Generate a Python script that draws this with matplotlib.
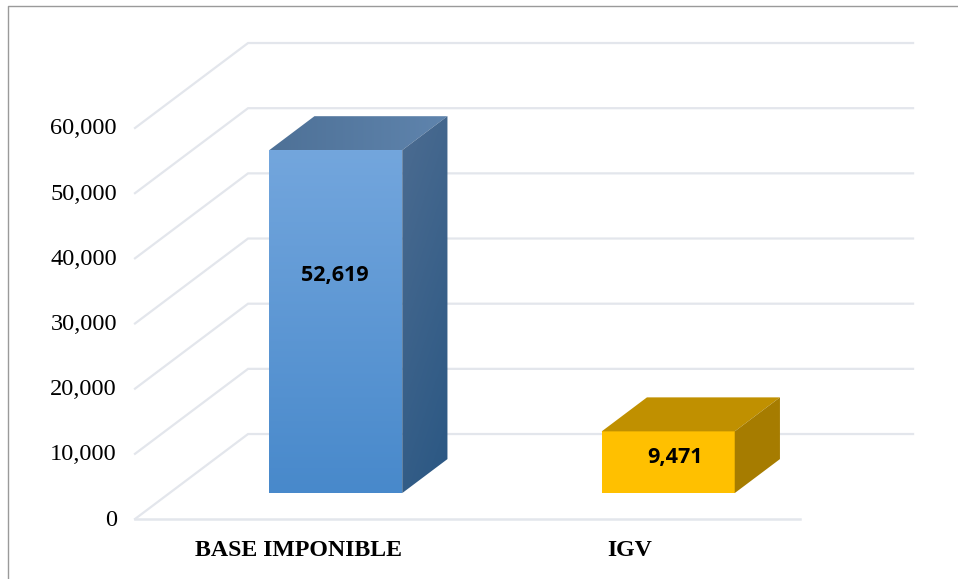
import matplotlib
matplotlib.use("Agg")
import numpy as np
from matplotlib import pyplot as plt
from matplotlib.colors import LinearSegmentedColormap
from matplotlib.patches import Polygon
from matplotlib.lines import Line2D
from matplotlib.transforms import ScaledTranslation

categories = ["BASE IMPONIBLE", "IGV"]
values = [52619, 9471]
value_labels = ["52,619", "9,471"]
yticks = [0, 10000, 20000, 30000, 40000, 50000, 60000]
ytick_labels = ["0", "10,000", "20,000", "30,000", "40,000", "50,000", "60,000"]

# oblique depth of the chart box, in data units
DX = 0.34
DY = 13040
BAR_W = 0.4
D_FRONT = 0.305
D_BACK = 0.705
GRID = "#e3e6ec"

W, H = 958, 579
fig = plt.figure(figsize=(W / 100, H / 100), dpi=100, facecolor="white")
ax = fig.add_axes([135 / W, 1 - 519 / H, 665 / W, 391 / H])
ax.patch.set_alpha(0)


def pt(x, y, d=0.0):
    return (x + d * DX, y + d * DY)


def face(corners, colors, angle=90):
    # gradient filled polygon, angle 90 runs top to bottom
    poly = Polygon(corners, closed=True, transform=ax.transData, fc="none", ec="none",
                   clip_on=False)
    ax.add_patch(poly)
    if colors[0] == colors[1]:
        poly.set_facecolor(colors[0])
        poly.set_zorder(3)
        return
    xs = [c[0] for c in corners]
    ys = [c[1] for c in corners]
    u, v = np.meshgrid(np.linspace(0, 1, 80), np.linspace(0, 1, 200))
    a = np.deg2rad(angle)
    t = u * np.cos(a) + v * np.sin(a)
    t = (t - t.min()) / (t.max() - t.min())
    cmap = LinearSegmentedColormap.from_list("f", colors)
    im = ax.imshow(t, cmap=cmap, extent=[min(xs), max(xs), min(ys), max(ys)],
                   aspect="auto", interpolation="bilinear", zorder=3)
    im.set_clip_box(fig.bbox)
    im.set_clip_path(poly)


# gridlines: side wall then back wall
for v in yticks:
    p0 = pt(0, v)
    p1 = pt(0, v, 1)
    p2 = pt(2, v, 1)
    ax.plot([p0[0], p1[0], p2[0]], [p0[1], p1[1], p2[1]], color=GRID, lw=1.6,
            solid_joinstyle="miter", clip_on=False, zorder=1)
ax.plot([0, 2], [0, 0], color=GRID, lw=1.8, clip_on=False, zorder=1)

front_colors = [("#73a6dd", "#4889cb"), ("#ffc000", "#ffc000")]
top_colors = [("#4e7197", "#5f84ad"), ("#c09000", "#c09000")]
side_colors = [("#4c6c91", "#2a5783"), ("#a67c00", "#a67c00")]

for i, val in enumerate(values):
    x0 = i + 0.5 - BAR_W / 2
    x1 = i + 0.5 + BAR_W / 2
    face([pt(x0, 0, D_FRONT), pt(x1, 0, D_FRONT), pt(x1, val, D_FRONT), pt(x0, val, D_FRONT)],
         front_colors[i])
    face([pt(x0, val, D_FRONT), pt(x1, val, D_FRONT), pt(x1, val, D_BACK), pt(x0, val, D_BACK)],
         top_colors[i], angle=0)
    face([pt(x1, 0, D_FRONT), pt(x1, 0, D_BACK), pt(x1, val, D_BACK), pt(x1, val, D_FRONT)],
         side_colors[i], angle=70)

label_x = [0.602, 1.625]
label_y = [37300, 9450]
for x, y, s in zip(label_x, label_y, value_labels):
    ax.text(x, y, s, ha="center", va="center", fontsize=15.5, fontweight="bold",
            family="Open Sans", color="black", zorder=5)

ax.set_xlim(0, 2)
ax.set_ylim(0, 60000)
ax.set_xticks([0.493, 1.488])
ax.set_xticklabels(categories, family="Liberation Serif", fontweight="bold", fontsize=17.2)
ax.set_yticks(yticks)
ax.set_yticklabels(ytick_labels, family="Liberation Serif", fontsize=17.6)
ax.tick_params(axis="both", length=0)
ax.tick_params(axis="x", pad=15)
ax.tick_params(axis="y", pad=13)
for s in ax.spines.values():
    s.set_visible(False)

# labels sit a touch above their gridline ends
nudge = ScaledTranslation(0, 1.5 / 100, fig.dpi_scale_trans)
for lab in ax.get_yticklabels():
    lab.set_transform(lab.get_transform() + nudge)

# outer frame, only top and left show in the crop
fig.add_artist(Line2D([8 / W, 8 / W, 1], [0, 1 - 6 / H, 1 - 6 / H], color="#9a9a9a", lw=1.0))

fig.savefig("out.png", dpi=100)
